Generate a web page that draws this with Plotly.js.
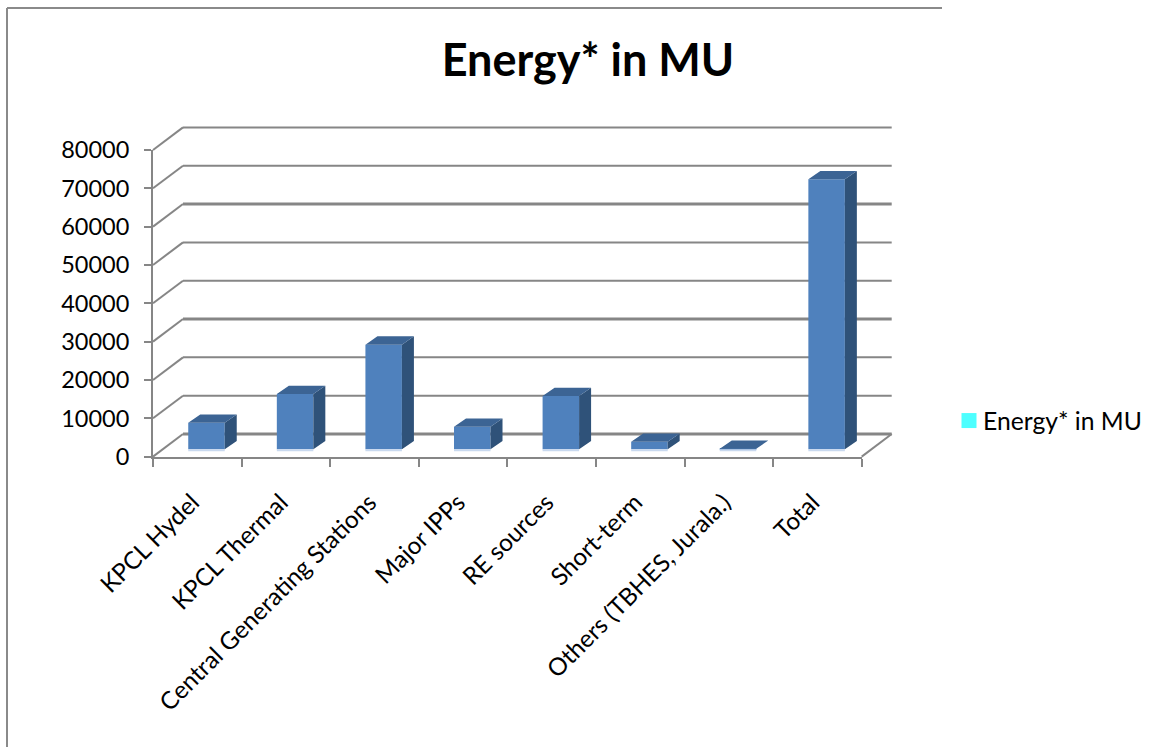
<!DOCTYPE html>
<html>
<head>
<meta charset="utf-8">
<script src="https://cdn.plot.ly/plotly-3.0.1.min.js"></script>
<style>html,body{margin:0;padding:0;background:#fff}</style>
</head>
<body>
<div id="chart" style="width:1149px;height:747px"></div>
<script>
const categories = ["KPCL Hydel","KPCL Thermal","Central Generating Stations","Major IPPs","RE sources","Short-term","Others (TBHES, Jurala.)","Total"];
const energyValues = [6940,14430,27300,5900,13900,1980,150,70440];
const yTicks = [0,10000,20000,30000,40000,50000,60000,70000,80000];
const seriesName = "Energy* in MU";
const chartTitle = "Energy* in MU";

const W = 1149, H = 747;
const L = 153, R = 861.7, T = 150, B = 456.6;   // plot box in pixels
const wallDX = 30, wallDY = 22.6;               // depth of the back wall in pixels
const FONT = "Lato, Carlito, Calibri, sans-serif";
const GRID = "#868686";
const thick = new Set([0,30000,60000]);

const xRange = [-0.5, 7.5], yRange = [0, 80000];
const pxY = y => B - (y - yRange[0]) / (yRange[1] - yRange[0]) * (B - T);
const dataDX = px => px / (R - L) * (xRange[1] - xRange[0]);
const dataDY = px => px / (B - T) * (yRange[1] - yRange[0]);
const pap = (x, y) => ({x: x / W, y: 1 - y / H});

const barWidth = dataDX(36.5);
const barShift = dataDX(9.2);
const barBase = dataDY(7.3);
const depthX = dataDX(12);
const depthY = dataDY(8.3);
const xs = categories.map((_, i) => i);

function seg(p, q, width, color) {
  const a = pap(p[0], p[1]), b = pap(q[0], q[1]);
  return {type:"line", xref:"paper", yref:"paper", layer:"below",
          x0:a.x, y0:a.y, x1:b.x, y1:b.y, line:{color:color, width:width}};
}
const shapes = [];
// outer frame
shapes.push(seg([7,8],[942,8],2,"#8a8a8a"));
shapes.push(seg([7,8],[7,747],2,"#8a8a8a"));
// walls
yTicks.forEach(v => {
  const y = pxY(v);
  shapes.push(seg([L,y],[L+wallDX,y-wallDY],2,GRID));
  shapes.push(seg([L+wallDX,y-wallDY],[R+wallDX,y-wallDY],thick.has(v)?3:2,GRID));
});
shapes.push(seg([R,B],[R+wallDX,B-wallDY],2,GRID));

const sideX = [], sideY = [], topX = [], topY = [], lineX = [], lineY = [];
xs.forEach((x, i) => {
  const c = x + barShift, x0 = c - barWidth/2, x1 = c + barWidth/2;
  const t = barBase + energyValues[i];
  sideX.push(x1, x1+depthX, x1+depthX, x1, x1, null);
  sideY.push(barBase, barBase+depthY, t+depthY, t, barBase, null);
  topX.push(x0, x0+depthX, x1+depthX, x1, x0, null);
  topY.push(t, t+depthY, t+depthY, t, t, null);
  lineX.push(x0, x1, null);
  lineY.push(barBase - dataDY(1), barBase - dataDY(1), null);
});

const traces = [
  {type:"bar", x:xs.map(x => x + barShift), y:energyValues, base:xs.map(() => barBase),
   width:barWidth, marker:{color:"#4f81bd", line:{width:0}}, showlegend:false, hoverinfo:"skip"},
  {type:"scatter", mode:"lines", x:lineX, y:lineY, line:{color:"#c9d9ef", width:2},
   showlegend:false, hoverinfo:"skip", cliponaxis:false},
  {type:"scatter", mode:"lines", x:sideX, y:sideY, fill:"toself", fillcolor:"#2f5279",
   line:{width:0, color:"#2f5279"}, showlegend:false, hoverinfo:"skip", cliponaxis:false},
  {type:"scatter", mode:"lines", x:topX, y:topY, fill:"toself", fillcolor:"#3c6494",
   line:{width:0, color:"#3c6494"}, showlegend:false, hoverinfo:"skip", cliponaxis:false},
  {type:"scatter", mode:"markers", name:seriesName, x:[null], y:[null],
   marker:{symbol:"square", size:15, color:"#4dffff"}, showlegend:true, hoverinfo:"skip"}
];

const layout = {
  width:W, height:H, margin:{l:0,r:0,t:0,b:0,pad:0},
  paper_bgcolor:"#ffffff", plot_bgcolor:"rgba(0,0,0,0)",
  barmode:"overlay", shapes:shapes,
  title:{text:"<b>"+chartTitle+"</b>", font:{family:FONT, size:45, color:"#000"},
         x:588/W, xanchor:"center", xref:"paper", y:1-60/H, yanchor:"middle", yref:"paper"},
  xaxis:{domain:[L/W,R/W], range:xRange, tickmode:"array", tickvals:xs, ticktext:categories,
         tickangle:-45, ticks:"", ticklabelstandoff:20, ticklabelshift:-5, showgrid:false, zeroline:false,
         showline:true, linecolor:GRID, linewidth:2,
         tickfont:{family:FONT, size:24.3, color:"#000"},
         minor:{tickmode:"array", tickvals:[-0.5,0.5,1.5,2.5,3.5,4.5,5.5,6.5,7.5],
                ticks:"outside", ticklen:8, tickwidth:2, tickcolor:GRID, showgrid:false}},
  yaxis:{domain:[1-B/H,1-T/H], range:yRange, tickmode:"array", tickvals:yTicks,
         ticktext:yTicks.map(String), ticks:"outside", ticklen:7, tickwidth:2, tickcolor:GRID,
         ticklabelstandoff:10,
         showgrid:false, zeroline:false, showline:true, linecolor:GRID, linewidth:2,
         tickfont:{family:FONT, size:23.5, color:"#000"}},
  legend:{x:943/W, xanchor:"left", y:1-421/H, yanchor:"middle", bgcolor:"rgba(0,0,0,0)",
          font:{family:FONT, size:24.7, color:"#000"}, itemwidth:30},
  showlegend:true
};
Plotly.newPlot("chart", traces, layout, {displayModeBar:false, responsive:false}).then(() => {
  // bring the legend swatch next to its label, as in the reference
  document.querySelectorAll("#chart .legend .legendpoints").forEach(n => n.setAttribute("transform", "translate(6,0)"));
});
</script>
</body>
</html>
